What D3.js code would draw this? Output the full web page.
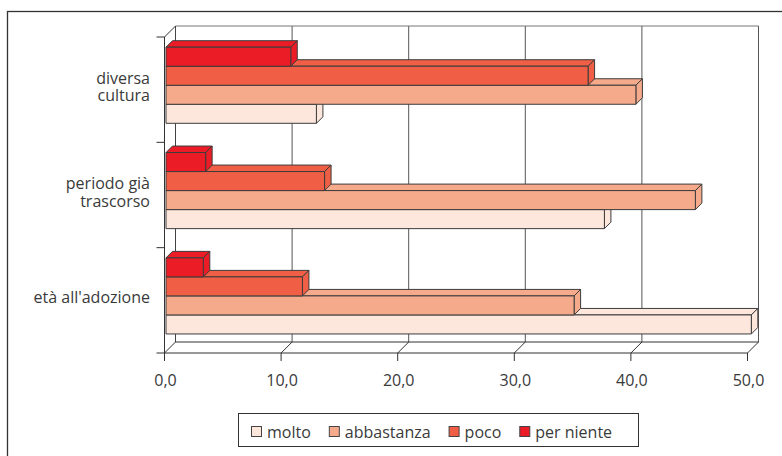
<!DOCTYPE html>
<html>
<head>
<meta charset="utf-8">
<script src="https://cdn.jsdelivr.net/npm/d3@7"></script>
<style>
  body { margin: 0; background: #fff; }
  text { font-family: "Open Sans", sans-serif; fill: #3a3a3a; }
</style>
</head>
<body>
<div id="vizcontainer"></div>
<script>
// values (percent)
const categories = ["diversa cultura", "periodo già trascorso", "età all'adozione"];
const categoryLines = [["diversa", "cultura"], ["periodo già", "trascorso"], ["età all'adozione"]];
const series = ["molto", "abbastanza", "poco", "per niente"];
const molto = [12.9, 37.6, 50.2];
const abbastanza = [40.3, 45.4, 35.0];
const poco = [36.2, 13.6, 11.7];
const perNiente = [10.7, 3.4, 3.2];
const xTicks = [0, 10, 20, 30, 40, 50];
const colors = ["#fde6dc", "#f6aa8c", "#f05f45", "#ec1c27"];

const
  width = 782,
  height = 456,
  depth = 11,        // wall depth offset
  barDepth = 6.5,    // bar depth offset
  barShift = 1.5,
  plotTop = 37,
  plotBottom = 353,
  fontSize = '16px'
  ;

const values = [molto, abbastanza, poco, perNiente];
const data = [];
categories.forEach((c, ci) => {
  series.forEach((s, si) => {
    data.push({ cat: c, ci: ci, series: s, si: si, value: values[si][ci] });
  });
});

const itFmt = d3.formatLocale({ decimal: ",", thousands: ".", grouping: [3], currency: ["", "€"] }).format(".1f");

const svg = d3.select('#vizcontainer')
  .append('svg')
  .attr('xmlns', 'http://www.w3.org/2000/svg')
  .attr('width', width)
  .attr('height', height);

// outer frame
svg.append('rect')
  .attr('x', 7.5).attr('y', 11.5)
  .attr('width', 820).attr('height', 520)
  .attr('fill', 'none')
  .attr('stroke', '#333')
  .attr('stroke-width', 1.3);

const x = d3.scaleLinear().domain([0, 50]).range([164.5, 747.5]);
const y = d3.scaleBand().domain(categories).range([plotTop, plotBottom]).padding(0);
// bars sit inside each band, top bar first
const yInner = d3.scaleBand().domain(series.slice().reverse()).range([10.2, 86.3]).padding(0);

const grid = svg.append('g').attr('id', 'walls');

// back wall gridlines
grid.selectAll('line.grid')
  .data(xTicks)
  .join('line')
  .attr('class', 'grid')
  .attr('x1', d => x(d) + depth).attr('x2', d => x(d) + depth)
  .attr('y1', plotTop - depth).attr('y2', plotBottom - depth)
  .attr('stroke', d => d === 0 ? '#444' : '#555')
  .attr('stroke-width', 1);

// top edge of back wall
grid.append('line')
  .attr('x1', x(0) + depth).attr('x2', x(50) + depth)
  .attr('y1', plotTop - depth).attr('y2', plotTop - depth)
  .attr('stroke', '#777');

// floor: back edge, front edge and diagonals
grid.append('line')
  .attr('x1', x(0) + depth).attr('x2', x(50) + depth)
  .attr('y1', plotBottom - depth).attr('y2', plotBottom - depth)
  .attr('stroke', '#333');
grid.append('line')
  .attr('x1', x(0)).attr('x2', x(50))
  .attr('y1', plotBottom).attr('y2', plotBottom)
  .attr('stroke', '#333');
grid.selectAll('line.diag')
  .data(xTicks)
  .join('line')
  .attr('class', 'diag')
  .attr('x1', d => x(d)).attr('y1', plotBottom)
  .attr('x2', d => x(d) + depth).attr('y2', plotBottom - depth)
  .attr('stroke', '#333');

// side wall: front axis line plus top diagonal
grid.append('line')
  .attr('x1', x(0)).attr('x2', x(0))
  .attr('y1', plotTop).attr('y2', plotBottom)
  .attr('stroke', '#333');
grid.append('line')
  .attr('x1', x(0)).attr('y1', plotTop)
  .attr('x2', x(0) + depth).attr('y2', plotTop - depth)
  .attr('stroke', '#333');

// tick marks
const yTickPos = categories.map(c => y(c)).concat([plotBottom]);
grid.selectAll('line.ytick')
  .data(yTickPos)
  .join('line')
  .attr('class', 'ytick')
  .attr('x1', x(0) - 8).attr('x2', x(0))
  .attr('y1', d => d).attr('y2', d => d)
  .attr('stroke', '#333');
grid.selectAll('line.xtick')
  .data(xTicks)
  .join('line')
  .attr('class', 'xtick')
  .attr('x1', d => x(d)).attr('x2', d => x(d))
  .attr('y1', plotBottom).attr('y2', plotBottom + 8)
  .attr('stroke', '#333');

// bars, drawn bottom to top so upper fronts hide lower tops
const order = d3.sort(data, d => d.ci, d => d.si);
const bars = svg.append('g').attr('id', 'bars')
  .selectAll('g')
  .data(order)
  .join('g');

const pts = a => a.map(p => p.join(',')).join(' ');
const geom = d => {
  const x0 = x(0) + barShift,
    x1 = x(d.value) + barShift,
    y0 = y(d.cat) + yInner(d.series),
    y1 = y0 + yInner.bandwidth(),
    k = barDepth;
  return { x0, x1, y0, y1, k };
};

bars.append('polygon')
  .attr('points', d => {
    const g = geom(d);
    return pts([[g.x0, g.y0], [g.x0 + g.k, g.y0 - g.k], [g.x1 + g.k, g.y0 - g.k], [g.x1, g.y0]]);
  });
bars.append('polygon')
  .attr('points', d => {
    const g = geom(d);
    return pts([[g.x1, g.y0], [g.x1 + g.k, g.y0 - g.k], [g.x1 + g.k, g.y1 - g.k], [g.x1, g.y1]]);
  });
bars.append('rect')
  .attr('x', d => geom(d).x0)
  .attr('y', d => geom(d).y0)
  .attr('width', d => geom(d).x1 - geom(d).x0)
  .attr('height', yInner.bandwidth());
bars.selectAll('polygon, rect')
  .attr('fill', function () { return colors[d3.select(this.parentNode).datum().si]; })
  .attr('stroke', '#3c3c3c')
  .attr('stroke-width', 1)
  .attr('stroke-linejoin', 'round');

// x tick labels
svg.append('g')
  .selectAll('text')
  .data(xTicks)
  .join('text')
  .attr('x', d => x(d) + 1)
  .attr('y', 386)
  .attr('text-anchor', 'middle')
  .style('font-size', fontSize)
  .text(d => itFmt(d));

// category labels
const catLabels = svg.append('g')
  .selectAll('text')
  .data(categories)
  .join('text')
  .attr('text-anchor', 'end')
  .style('font-size', fontSize);
catLabels.selectAll('tspan')
  .data((d, i) => categoryLines[i].map((t, j, arr) => ({ t, j, n: arr.length, c: d })))
  .join('tspan')
  .attr('x', 150)
  .attr('y', d => y(d.c) + y.bandwidth() / 2 + 3 + (d.j - (d.n - 1) / 2) * 17.4)
  .text(d => d.t);

// legend
const legend = svg.append('g').attr('id', 'legend');
legend.append('rect')
  .attr('x', 238.5).attr('y', 413.5)
  .attr('width', 400).attr('height', 33)
  .attr('fill', '#fff')
  .attr('stroke', '#333');

let lx = 251;
series.forEach((s, i) => {
  legend.append('rect')
    .attr('x', lx + 0.5).attr('y', 426.5)
    .attr('width', 10).attr('height', 10)
    .attr('fill', colors[i])
    .attr('stroke', '#444');
  const t = legend.append('text')
    .attr('x', lx + 16)
    .attr('y', 437.5)
    .style('font-size', fontSize)
    .text(s);
  lx += 16 + t.node().getComputedTextLength() + 18;
});
</script>
</body>
</html>
